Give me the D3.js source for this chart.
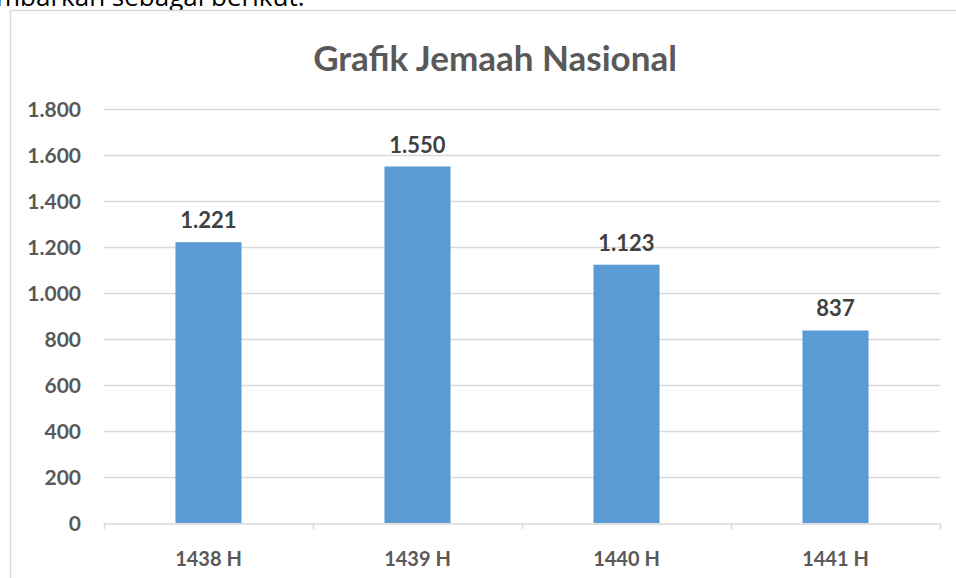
<!DOCTYPE html>
<html>
<head>
<meta charset="utf-8">
<script src="https://cdnjs.cloudflare.com/ajax/libs/d3/7.8.5/d3.min.js"></script>
<style>
  html, body { margin: 0; padding: 0; background: #fff; overflow: hidden; }
  svg { display: block; }
</style>
</head>
<body>
<svg id="chart" width="956" height="578"></svg>
<script>
const categories = ["1438 H", "1439 H", "1440 H", "1441 H"];
const values = [1221, 1550, 1123, 837];
const valueLabels = ["1.221", "1.550", "1.123", "837"];
const yTicks = [0, 200, 400, 600, 800, 1000, 1200, 1400, 1600, 1800];
const yTickLabels = ["0", "200", "400", "600", "800", "1.000", "1.200", "1.400", "1.600", "1.800"];
const title = "Grafik Jemaah Nasional";
const introText = "mbarkan sebagai berikut.";

(function () {
const svg = d3.select("#chart");
const font = "Lato, 'Open Sans', sans-serif";

// text above chart (cut off at the top as in the reference)
svg.append("text")
  .attr("x", -4).attr("y", 6)
  .attr("font-family", "'Open Sans', sans-serif")
  .attr("font-size", 26)
  .attr("fill", "#000")
  .text(introText);

// chart border
svg.append("rect")
  .attr("x", 10.5).attr("y", 10.5)
  .attr("width", 1000).attr("height", 1000)
  .attr("fill", "#fff")
  .attr("stroke", "#d9d9d9").attr("stroke-width", 1.5);

const mLeft = 104, mRight = 940, mTop = 109, mBottom = 523;

const x = d3.scaleBand().domain(categories).range([mLeft, mRight]).paddingInner(0.684).paddingOuter(0.342);
const xBand = d3.scaleBand().domain(categories).range([mLeft, mRight]);
const y = d3.scaleLinear().domain([0, 1800]).range([mBottom, mTop]);

// title
svg.append("text")
  .attr("x", 495).attr("y", 71)
  .attr("text-anchor", "middle")
  .attr("font-family", font)
  .attr("font-weight", "bold")
  .attr("font-size", 35)
  .attr("fill", "#595959")
  .text(title);

// gridlines
svg.append("g").selectAll("line")
  .data(yTicks.filter(d => d > 0))
  .join("line")
  .attr("x1", mLeft).attr("x2", mRight)
  .attr("y1", d => Math.round(y(d)) + 0.5).attr("y2", d => Math.round(y(d)) + 0.5)
  .attr("stroke", "#d9d9d9").attr("stroke-width", 1.5);

// y labels
svg.append("g").selectAll("text")
  .data(yTicks)
  .join("text")
  .attr("x", 81)
  .attr("y", d => y(d))
  .attr("dy", "0.36em")
  .attr("text-anchor", "end")
  .attr("font-family", font)
  .attr("font-weight", "bold")
  .attr("font-size", 21)
  .attr("fill", "#595959")
  .text((d, i) => yTickLabels[i]);

// bars
svg.append("g").selectAll("rect")
  .data(values)
  .join("rect")
  .attr("x", (d, i) => x(categories[i]))
  .attr("width", x.bandwidth())
  .attr("y", d => y(d))
  .attr("height", d => y(0) - y(d))
  .attr("fill", "#5b9bd5");

// x axis
const xAxis = d3.axisBottom(xBand).tickSize(0).tickFormat("");
const gx = svg.append("g").attr("transform", `translate(0,${mBottom + 0.5})`).call(xAxis);
gx.select(".domain").attr("stroke", "#d9d9d9").attr("stroke-width", 1.5);
const boundaries = categories.map(c => xBand(c)).concat([mRight]);
svg.append("g").selectAll("line")
  .data(boundaries)
  .join("line")
  .attr("x1", d => Math.round(d) + 0.5).attr("x2", d => Math.round(d) + 0.5)
  .attr("y1", mBottom).attr("y2", mBottom + 6)
  .attr("stroke", "#d9d9d9").attr("stroke-width", 1.5);

// x labels
svg.append("g").selectAll("text")
  .data(categories)
  .join("text")
  .attr("x", d => xBand(d) + xBand.bandwidth() / 2)
  .attr("y", 566)
  .attr("text-anchor", "middle")
  .attr("font-family", font)
  .attr("font-weight", "bold")
  .attr("font-size", 20)
  .attr("fill", "#595959")
  .text(d => d);

// value labels
svg.append("g").selectAll("text")
  .data(values)
  .join("text")
  .attr("x", (d, i) => xBand(categories[i]) + xBand.bandwidth() / 2)
  .attr("y", d => y(d) - 14)
  .attr("text-anchor", "middle")
  .attr("font-family", font)
  .attr("font-weight", "bold")
  .attr("font-size", 22)
  .attr("fill", "#404040")
  .text((d, i) => valueLabels[i]);
})();
</script>
</body>
</html>
